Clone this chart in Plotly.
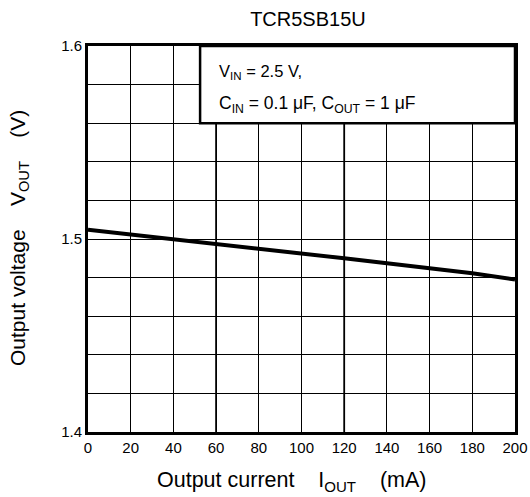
import plotly.graph_objects as go

# Data
iout_ma = [0, 20, 40, 60, 80, 100, 120, 140, 160, 180, 200]
vout_v = [1.5048, 1.5024, 1.5001, 1.4976, 1.4951, 1.4925, 1.4900, 1.4874, 1.4850, 1.4822, 1.4790]

x_ticks = list(range(0, 201, 20))
x_tick_labels = [str(v) for v in x_ticks]
y_ticks = [1.4, 1.5, 1.6]
y_tick_labels = ["1.4", "1.5", "1.6"]
y_grid_step = 0.02
emphasized_x = [60, 120]

title_text = "TCR5SB15U"
x_title = "Output current    I<sub>OUT</sub>    (mA)"
y_title = "Output voltage    V<sub>OUT</sub>    (V)"
cond_line1 = "V<sub>IN</sub> = 2.5 V,"
cond_line2 = "C<sub>IN</sub> = 0.1 μF, C<sub>OUT</sub> = 1 μF"

FONT = "Liberation Sans, Arial, sans-serif"

fig = go.Figure()
fig.add_trace(go.Scatter(x=iout_ma, y=vout_v, mode="lines",
                         line=dict(color="black", width=4), showlegend=False,
                         hoverinfo="skip"))

fig.update_xaxes(range=[0, 200], tickvals=x_ticks, ticktext=x_tick_labels,
                 showgrid=True, gridcolor="black", gridwidth=1.2, automargin=False,
                 showline=True, linecolor="black", linewidth=3, mirror=True,
                 zeroline=False, ticks="", tickfont=dict(size=15, color="black"))
fig.update_yaxes(range=[1.4, 1.6], tickvals=y_ticks, ticktext=y_tick_labels,
                 showgrid=True, gridcolor="black", gridwidth=1.2, automargin=False,
                 minor=dict(tick0=1.4, dtick=y_grid_step, showgrid=True,
                            gridcolor="black", gridwidth=1.2, ticks=""),
                 showline=True, linecolor="black", linewidth=3, mirror=True,
                 zeroline=False, ticks="", tickfont=dict(size=15, color="black"))

for xv in emphasized_x:
    fig.add_shape(type="line", xref="x", yref="y", x0=xv, x1=xv, y0=1.4, y1=1.56,
                  line=dict(color="black", width=1.8), layer="below")

fig.add_shape(type="rect", xref="x", yref="y", x0=52.5, x1=200, y0=1.56, y1=1.6,
              fillcolor="white", line=dict(color="black", width=2.5), layer="above")

fig.add_annotation(x=60.5, y=1.5865, xref="x", yref="y", text=cond_line1, showarrow=False,
                   xanchor="left", yanchor="middle", font=dict(size=16.5, color="black", family=FONT))
fig.add_annotation(x=60.5, y=1.5695, xref="x", yref="y", text=cond_line2, showarrow=False,
                   xanchor="left", yanchor="middle", font=dict(size=17.5, color="black", family=FONT))

# axis titles as annotations for precise placement
fig.add_annotation(x=0.478, y=-0.1295, xref="paper", yref="paper", text=x_title, showarrow=False,
                   xanchor="center", yanchor="middle", font=dict(size=21.5, color="black", family=FONT))
fig.add_annotation(x=-0.1616, y=0.5026, xref="paper", yref="paper", text=y_title, showarrow=False,
                   textangle=-90, xanchor="center", yanchor="middle",
                   font=dict(size=21, color="black", family=FONT))

fig.update_layout(
    template="none",
    width=530, height=497,
    margin=dict(l=88, r=15, t=46, b=65, autoexpand=False),
    paper_bgcolor="white", plot_bgcolor="white",
    font=dict(family=FONT, color="black"),
    title=dict(text=title_text, x=0.581, xanchor="center", y=0.961, yanchor="middle",
               font=dict(size=20, color="black")),
)

fig.write_html("out.html", config={"displayModeBar": False},
               post_script="document.body.style.margin='0';document.body.style.overflow='hidden';")
